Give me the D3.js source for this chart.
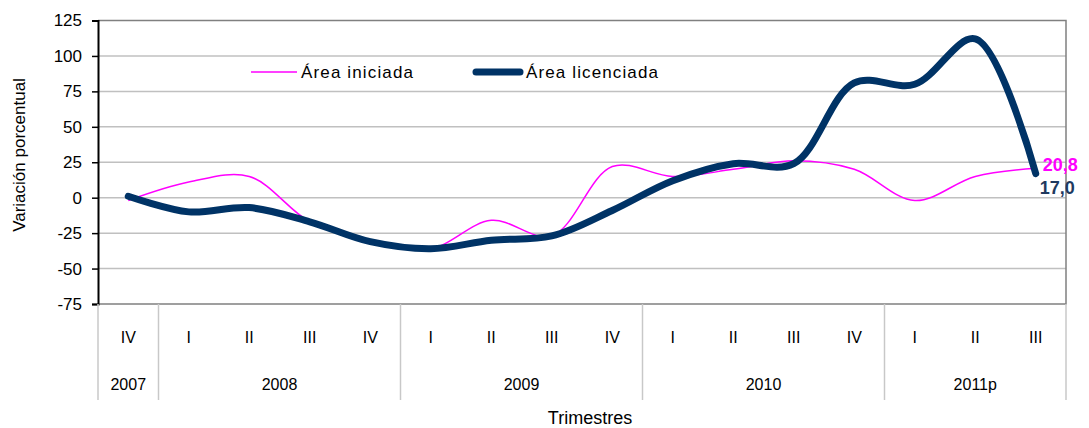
<!DOCTYPE html>
<html><head><meta charset="utf-8">
<script src="https://cdn.jsdelivr.net/npm/d3@7"></script>
<style>body{margin:0;background:#fff}svg{display:block;font-family:"Liberation Sans",Arial,sans-serif}</style>
</head><body><svg id="c" width="1089" height="428"></svg>
<script>
const quarters = ["IV","I","II","III","IV","I","II","III","IV","I","II","III","IV","I","II","III"];
const years = [{label:"2007",n:1},{label:"2008",n:4},{label:"2009",n:4},{label:"2010",n:4},{label:"2011p",n:3}];
const iniciada = [-2, 11, 15, -17, -31, -36, -16, -27, 22, 15, 20, 26, 20, -2, 15, 20.8];
const licenciada = [1, -10, -7, -17, -31, -36, -30, -27, -9, 12, 24, 24, 81, 80, 112, 17.0];
const yTicks = [125,100,75,50,25,0,-25,-50,-75];
const seriesNames = ["Área iniciada","Área licenciada"];
const colors = ["#FF00FF","#003366"];

const svg = d3.select("#c");
const L=98, R=1066, T=20.5, B=304;
const x = d3.scaleBand().domain(d3.range(quarters.length)).range([L,R]);
const y = d3.scaleLinear().domain([-75,125]).range([B,T]);

// gridlines
svg.append("g").selectAll("line").data(yTicks.filter(d=>d>-75&&d<125)).join("line")
  .attr("x1",L).attr("x2",R).attr("y1",d=>y(d)).attr("y2",d=>y(d))
  .attr("stroke","#C0C0C0").attr("stroke-width",1.5);
// border top/right/bottom
svg.append("path").attr("d",`M${L},${y(125)}H${R}V${y(-75)}H${L}`).attr("fill","none").attr("stroke","#808080").attr("stroke-width",1.5);

// y axis
const ya = svg.append("g").attr("transform",`translate(${L},0)`)
  .call(d3.axisLeft(y).tickValues(yTicks).tickFormat(d=>String(d)).tickSize(6).tickPadding(10));
ya.select(".domain").attr("stroke","#000").attr("stroke-width",2);
ya.selectAll(".tick line").attr("stroke","#000").attr("stroke-width",1.5);
ya.selectAll(".tick text").attr("font-size",17).attr("fill","#000").attr("font-family","Liberation Sans, Arial, sans-serif");

// category separators
let bounds=[0]; let acc=0; years.forEach(yy=>{acc+=yy.n;bounds.push(acc);});
const sepX = i => i<quarters.length ? x(i) : R;
svg.append("g").selectAll("line").data(bounds).join("line")
  .attr("x1",d=>sepX(d)).attr("x2",d=>sepX(d)).attr("y1",B).attr("y2",400)
  .attr("stroke","#C8C8C8").attr("stroke-width",1.5);
// quarter labels
svg.append("g").selectAll("text").data(quarters).join("text")
  .attr("x",(d,i)=>x(i)+x.bandwidth()/2).attr("y",343).attr("text-anchor","middle")
  .attr("font-size",16).attr("fill","#000").text(d=>d);
// year labels
svg.append("g").selectAll("text").data(years).join("text")
  .attr("x",(d,i)=>(sepX(bounds[i])+sepX(bounds[i+1]))/2).attr("y",390).attr("text-anchor","middle")
  .attr("font-size",16).attr("fill","#000").text(d=>d.label);

// axis titles
svg.append("text").attr("x",590).attr("y",424).attr("text-anchor","middle").attr("font-size",18).attr("fill","#000").text("Trimestres");
svg.append("text").attr("transform","translate(25,155) rotate(-90)").attr("text-anchor","middle").attr("font-size",17).attr("fill","#000").text("Variación porcentual");

// lines
const line = d3.line().x((d,i)=>x(i)+x.bandwidth()/2).y(d=>y(d)).curve(d3.curveCatmullRom.alpha(0.5));
svg.append("path").attr("d",line(iniciada)).attr("fill","none").attr("stroke",colors[0]).attr("stroke-width",1.5);
svg.append("path").attr("d",line(licenciada)).attr("fill","none").attr("stroke",colors[1]).attr("stroke-width",7).attr("stroke-linecap","round").attr("stroke-linejoin","round");

// end labels
const last = quarters.length-1;
const fmt = v => v.toFixed(1).replace(".",",");
svg.append("text").attr("x",x(last)+x.bandwidth()/2+7).attr("y",y(iniciada[last])+3).attr("font-size",18).attr("font-weight","bold").attr("fill",colors[0]).text(fmt(iniciada[last]));
svg.append("text").attr("x",x(last)+x.bandwidth()/2+4).attr("y",y(licenciada[last])+20).attr("font-size",18).attr("font-weight","bold").attr("fill","#1F3A5F").text(fmt(licenciada[last]));

// legend
const lg = svg.append("g");
lg.append("line").attr("x1",251).attr("x2",297).attr("y1",72).attr("y2",72).attr("stroke",colors[0]).attr("stroke-width",1.5);
lg.append("text").attr("x",301).attr("y",78).attr("font-size",17).attr("fill","#000").attr("textLength",112).text(seriesNames[0]);
lg.append("line").attr("x1",476).attr("x2",520).attr("y1",72).attr("y2",72).attr("stroke",colors[1]).attr("stroke-width",7).attr("stroke-linecap","round");
lg.append("text").attr("x",526).attr("y",78).attr("font-size",17).attr("fill","#000").attr("textLength",132).text(seriesNames[1]);
</script></body></html>
